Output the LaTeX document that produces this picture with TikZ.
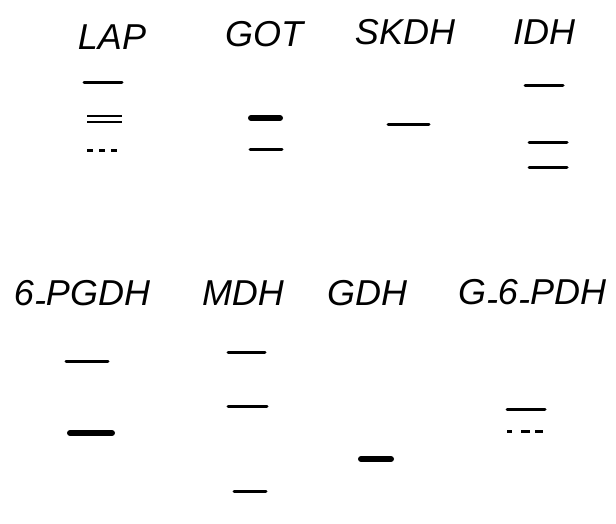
\documentclass[tikz,border=0pt]{standalone}
\usepackage{fontspec}
\setmainfont{Liberation Sans}
\usepackage{tikz}
\usetikzlibrary{positioning}
\newcommand{\lowdash}{\raisebox{-0.22em}{-}}
\tikzset{
  lbl/.style={font=\fontsize{36}{40}\selectfont\itshape,anchor=base,inner sep=0pt},
  band/.style={line width=3pt,line cap=round},
  heavyband/.style={line width=6pt,line cap=round},
  faintband/.style={line width=3pt,dash pattern=on 6pt off 6pt}
}
\begin{document}
\begin{tikzpicture}[x=1pt,y=-1pt]
\useasboundingbox (0,0) rectangle (616,524);
% enzyme names
\node[lbl] (lap) at (112,50) {LAP};
\node[lbl] (got) at (264,47) {GOT};
\node[lbl] (skdh) at (405,45) {SKDH};
\node[lbl] (idh) at (544,45) {IDH};
\node[lbl] (pgdh) at (82,305) {6\lowdash PGDH};
\node[lbl] (mdh) at (243,305) {MDH};
\node[lbl] (gdh) at (367,305) {GDH};
\node[lbl] (gpdh) at (532,304) {G\lowdash 6\lowdash PDH};
% thin bands
\foreach \xa/\xb/\y in {84/122/83, 250/282/150, 388/429/125,
  525/563/86, 529/567/143, 529/567/168, 66/108/361,
  228/265/352, 228/267/406, 234/266/491, 507/545/409}
  \draw[band] (\xa,\y)--(\xb,\y);
% LAP double band
\draw[line width=2.4pt] (87,116)--(122,116) (87,122)--(122,122);
% heavy bands
\foreach \xa/\xb/\y in {251/280/118, 70/112/433, 361/391/459}
  \draw[heavyband] (\xa,\y)--(\xb,\y);
% faint bands
\draw[faintband] (87,151)--(121,151);
\draw[faintband,dash pattern=on 5pt off 9pt on 9pt off 5pt on 8pt] (507,431)--(545,431);
\end{tikzpicture}
\end{document}
